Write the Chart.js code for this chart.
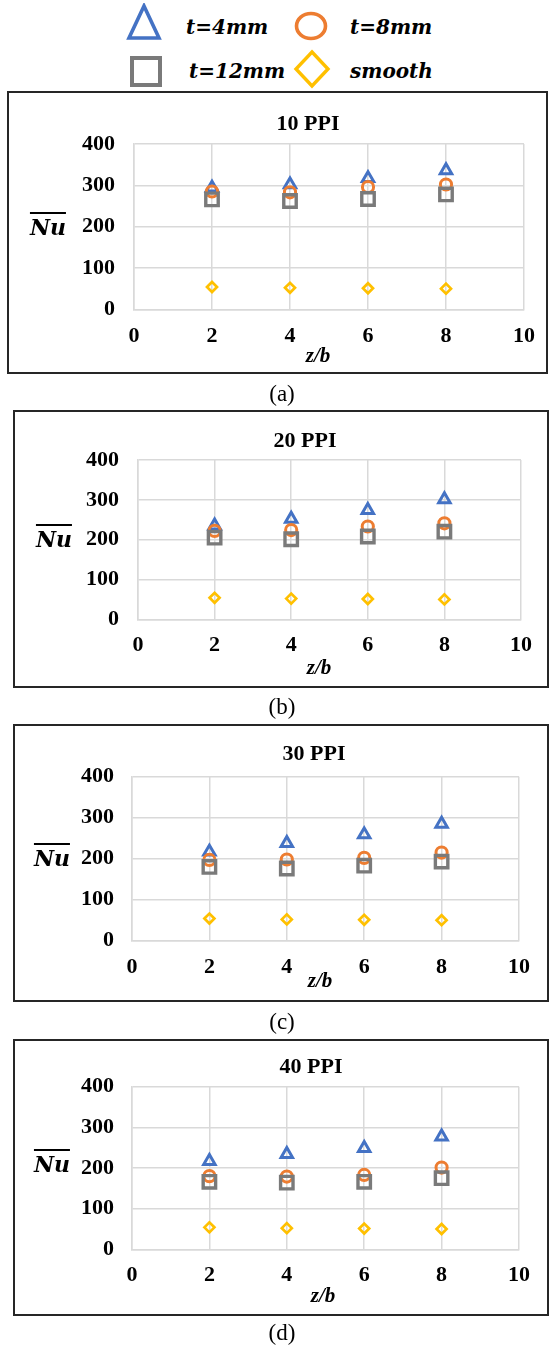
<!DOCTYPE html>
<html>
<head>
<meta charset="utf-8">
<script src="https://cdn.jsdelivr.net/npm/chart.js@4.4.0/dist/chart.umd.min.js"></script>
<style>
  html, body { margin: 0; padding: 0; background: #fff; }
  body { width: 549px; height: 1347px; position: relative; overflow: hidden; }
  .ctr { position: absolute; transform: translate(-50%, -50%); white-space: nowrap; line-height: 1; }
  .box { position: absolute; border: 2px solid #262626; box-sizing: border-box; }
  .ttl { font: bold 22px "Liberation Serif", serif; color: #000; }
  .nu { font: bold italic 22px "DejaVu Serif", serif; color: #000; }
  .nu span { border-top: 2px solid #000; padding-top: 2px; display: inline-block; line-height: 1; }
  .zb { font: bold italic 21px "Liberation Serif", serif; color: #000; }
  .cap { font: 23px "Liberation Serif", serif; color: #000; }
  .leg { position: absolute; font: bold italic 20px "DejaVu Serif", serif; color: #000; line-height: 1; transform: translateY(-50%); white-space: nowrap; }
  canvas { position: absolute; left: 0; }
</style>
</head>
<body>
<script>
// x positions (z/b) shared by every series
const zb = [2, 4, 6, 8];

// axis ticks
const xTicks = [0, 2, 4, 6, 8, 10];
const yTicks = [0, 100, 200, 300, 400];

// series names and panel labels
const seriesNames = ['t=4mm', 't=8mm', 't=12mm', 'smooth'];
const panelTitles = ['10 PPI', '20 PPI', '30 PPI', '40 PPI'];
const panelCaptions = ['(a)', '(b)', '(c)', '(d)'];

// average Nusselt number, 10 PPI foam
const nu4mm_10 = [294, 302, 317, 336];
const nu8mm_10 = [285, 283, 296, 302];
const nu12mm_10 = [266, 262, 267, 278];

// 20 PPI foam
const nu4mm_20 = [235, 252, 274, 301];
const nu8mm_20 = [222, 224, 233, 241];
const nu12mm_20 = [205, 201, 208, 220];

// 30 PPI foam
const nu4mm_30 = [217, 238, 259, 285];
const nu8mm_30 = [197, 198, 202, 215];
const nu12mm_30 = [180, 176, 183, 193];

// 40 PPI foam
const nu4mm_40 = [217, 234, 249, 277];
const nu8mm_40 = [180, 179, 183, 201];
const nu12mm_40 = [166, 164, 166, 175];

// smooth channel (no foam), same in every panel
const nuSmooth = [54, 52, 51, 50];

const panelSeries = [
  [nu4mm_10, nu8mm_10, nu12mm_10, nuSmooth],
  [nu4mm_20, nu8mm_20, nu12mm_20, nuSmooth],
  [nu4mm_30, nu8mm_30, nu12mm_30, nuSmooth],
  [nu4mm_40, nu8mm_40, nu12mm_40, nuSmooth]
];

// marker look per series
const markerStyles = [
  { pointStyle: 'triangle', color: '#4472C4', radius: 6.6, width: 3 },
  { pointStyle: 'circle',   color: '#ED7D31', radius: 5.6, width: 3 },
  { pointStyle: 'rect',     color: '#7A7A7A', radius: 8.8, width: 3.4 },
  { pointStyle: 'rectRot',  color: '#FFC000', radius: 5, width: 2.7 }
];

// page geometry of each framed panel
const frames = [
  { box: [7, 91, 548, 374],   plot: [134, 144, 524, 309.3],  yPad: 19, xPad: 14.7, title: [308, 123],  nu: [48, 226],  zb: [318, 355],  cap: [282, 394] },
  { box: [13, 410, 549, 688], plot: [138, 460, 521, 619.3],  yPad: 19, xPad: 13.7, title: [305, 440],  nu: [54, 538],  zb: [319, 667],  cap: [282, 707] },
  { box: [13, 724, 549, 1002], plot: [132, 776.7, 519, 940.7], yPad: 18, xPad: 14.3, title: [314, 753],  nu: [52, 857],  zb: [320, 980],  cap: [282, 1022] },
  { box: [13, 1039, 549, 1316], plot: [132, 1086.7, 519, 1249.3], yPad: 18, xPad: 13.7, title: [311, 1066], nu: [52, 1163], zb: [323, 1295], cap: [282, 1333] }
];

function addText(cls, txt, x, y) {
  const d = document.createElement('div');
  d.className = 'ctr ' + cls;
  d.style.left = x + 'px';
  d.style.top = y + 'px';
  d.textContent = txt;
  document.body.appendChild(d);
  return d;
}

// ---- shared legend at the top ----
(function buildLegend() {
  const svgNS = 'http://www.w3.org/2000/svg';
  function svg(x, y, w, h, inner) {
    const s = document.createElementNS(svgNS, 'svg');
    s.setAttribute('width', w); s.setAttribute('height', h);
    s.style.position = 'absolute'; s.style.left = x + 'px'; s.style.top = y + 'px';
    s.innerHTML = inner;
    document.body.appendChild(s);
  }
  svg(126, 3, 36, 40, '<polygon points="18,3 33,35 3,35" fill="none" stroke="#4472C4" stroke-width="3.6" stroke-linejoin="miter"/>');
  svg(292, 10, 38, 32, '<ellipse cx="19" cy="16" rx="14.5" ry="12.5" fill="none" stroke="#ED7D31" stroke-width="3.6"/>');
  svg(128, 55, 38, 34, '<rect x="4" y="3" width="28" height="27" fill="none" stroke="#7A7A7A" stroke-width="4"/>');
  svg(293, 49, 40, 42, '<polygon points="19,3 35,20 19,37 3,20" fill="none" stroke="#FFC000" stroke-width="3.4"/>');
  const pos = [[186, 27], [350, 27], [189, 71], [350, 71]];
  seriesNames.forEach((n, i) => {
    const d = document.createElement('div');
    d.className = 'leg';
    d.style.left = pos[i][0] + 'px';
    d.style.top = pos[i][1] + 'px';
    d.textContent = n;
    document.body.appendChild(d);
  });
})();

// ---- the four panels ----
const tickFont = { family: '"Liberation Serif", serif', size: 22, weight: 'bold' };

frames.forEach((f, p) => {
  const [bl, bt, br, bb] = f.box;
  const [pl, pt, pr, pb] = f.plot;

  const frame = document.createElement('div');
  frame.className = 'box';
  frame.style.left = bl + 'px'; frame.style.top = bt + 'px';
  frame.style.width = (br - bl) + 'px'; frame.style.height = (bb - bt) + 'px';
  document.body.appendChild(frame);

  const cv = document.createElement('canvas');
  const ch = bb - bt;
  cv.width = 549; cv.height = ch;
  cv.style.top = bt + 'px';
  cv.style.width = '549px'; cv.style.height = ch + 'px';
  document.body.appendChild(cv);

  const datasets = panelSeries[p].map((vals, s) => {
    const m = markerStyles[s];
    return {
      label: seriesNames[s],
      data: zb.map((x, i) => ({ x: x, y: vals[i] })),
      pointStyle: m.pointStyle,
      pointRadius: m.radius,
      pointBorderWidth: m.width,
      borderColor: m.color,
      pointBorderColor: m.color,
      backgroundColor: 'rgba(0,0,0,0)',
      pointBackgroundColor: 'rgba(0,0,0,0)',
      showLine: false,
      order: 4 - s
    };
  });

  new Chart(cv, {
    type: 'scatter',
    data: { datasets },
    options: {
      responsive: false,
      animation: false,
      events: [],
      layout: { padding: { left: 0, top: pt - bt, right: 549 - pr, bottom: 0 } },
      plugins: { legend: { display: false }, tooltip: { enabled: false }, title: { display: false } },
      scales: {
        x: {
          type: 'linear', min: xTicks[0], max: xTicks[xTicks.length - 1],
          afterBuildTicks: (s) => { s.ticks = xTicks.map(v => ({ value: v })); },
          ticks: { padding: f.xPad - 1.2, color: '#000', font: tickFont },
          grid: { color: '#d9d9d9', lineWidth: 1.5, drawTicks: false },
          border: { color: '#d9d9d9', width: 1.5 },
          afterFit: (s) => { s.height = bb - pb; }
        },
        y: {
          type: 'linear', min: yTicks[0], max: yTicks[yTicks.length - 1],
          afterBuildTicks: (s) => { s.ticks = yTicks.map(v => ({ value: v })); },
          ticks: { padding: f.yPad, color: '#000', font: tickFont },
          grid: { color: '#d9d9d9', lineWidth: 1.5, drawTicks: false },
          border: { color: '#d9d9d9', width: 1.5 },
          afterFit: (s) => { s.width = pl; }
        }
      }
    }
  });

  addText('ttl', panelTitles[p], f.title[0], f.title[1]);
  const nu = addText('nu', '', f.nu[0], f.nu[1]);
  const sp = document.createElement('span');
  sp.textContent = 'Nu';
  nu.appendChild(sp);
  addText('zb', 'z/b', f.zb[0], f.zb[1]);
  addText('cap', panelCaptions[p], f.cap[0], f.cap[1]);
});
</script>
</body>
</html>
